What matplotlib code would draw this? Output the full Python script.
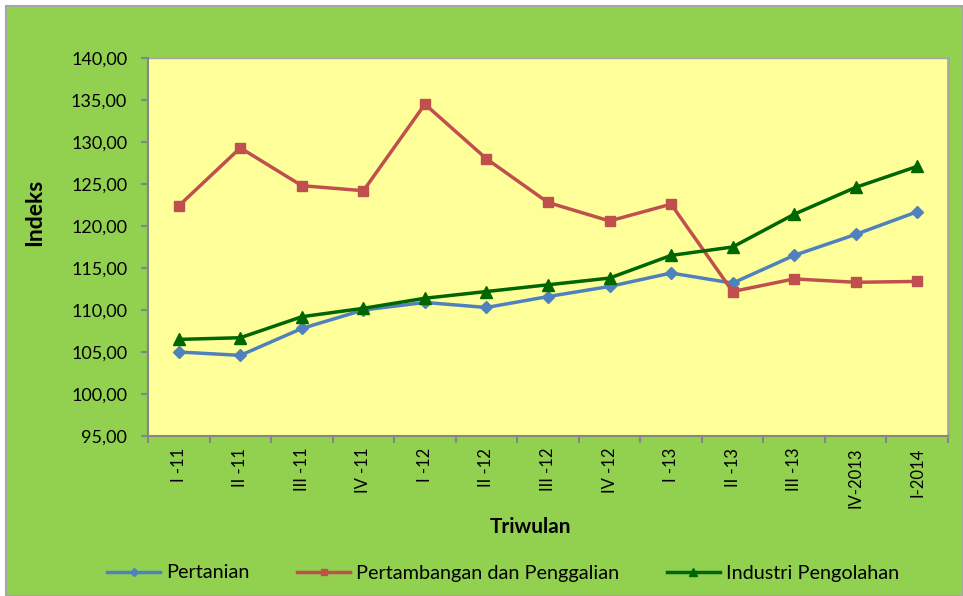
import matplotlib.pyplot as plt
from matplotlib.patches import Rectangle
import numpy as np

quarters = ['I -11', 'II -11', 'III -11', 'IV -11', 'I -12', 'II -12', 'III -12',
            'IV -12', 'I -13', 'II -13', 'III -13', 'IV-2013', 'I-2014']
pertanian = [105.0, 104.6, 107.8, 110.0, 110.9, 110.3, 111.6, 112.8, 114.4, 113.2, 116.5, 119.0, 121.7]
pertambangan = [122.4, 129.3, 124.8, 124.2, 134.5, 128.0, 122.8, 120.6, 122.6, 112.2, 113.7, 113.3, 113.4]
industri = [106.5, 106.7, 109.2, 110.2, 111.4, 112.2, 113.0, 113.8, 116.5, 117.5, 121.4, 124.6, 127.1]
y_ticks = [95, 100, 105, 110, 115, 120, 125, 130, 135, 140]

plt.rcParams['font.family'] = ['Lato', 'DejaVu Sans']

W, H = 963, 596
fig = plt.figure(figsize=(W / 100, H / 100), dpi=100, facecolor='white')

# green chart area with a thin gray frame, white margin on top/left
fig.patches.append(Rectangle((6 / W, 0), 1 - 6 / W, 1 - 6 / H, transform=fig.transFigure,
                             facecolor='#92D050', edgecolor='#A6A6A6', linewidth=1.5, zorder=-5))

ax = fig.add_axes([148 / W, 1 - 436 / H, 800 / W, 378 / H])
ax.set_facecolor('#FFFF99')

x = np.arange(len(quarters))
ax.plot(x, pertanian, color='#4F81BD', lw=2.5, marker='D', ms=6, label='Pertanian')
ax.plot(x, pertambangan, color='#C0504D', lw=2.5, marker='s', ms=7, label='Pertambangan dan Penggalian')
ax.plot(x, industri, color='#006600', lw=2.5, marker='^', ms=8, label='Industri Pengolahan')

ax.set_xlim(-0.5, len(quarters) - 0.5)
ax.set_ylim(95, 140)
ax.set_yticks(y_ticks)
ax.set_yticklabels([f'{v:.2f}'.replace('.', ',') for v in y_ticks], fontsize=13)
ax.set_xticks(x)
ax.set_xticklabels(quarters, rotation=90, fontsize=12)
ax.set_xticks(np.arange(len(quarters) + 1) - 0.5, minor=True)
ax.tick_params(axis='x', which='major', length=0, pad=8.5)
ax.tick_params(axis='x', which='minor', length=5, color='#868686', width=1.5)
ax.tick_params(axis='y', length=5, color='#868686', width=1.5, pad=10)

for side in ['top', 'right']:
    ax.spines[side].set_visible(False)
for side in ['left', 'bottom']:
    ax.spines[side].set_color('#868686')
    ax.spines[side].set_linewidth(1.5)
ax.plot([1, 1], [0, 1], transform=ax.transAxes, color='#A6A6A6', lw=2, clip_on=False)
ax.plot([0, 1], [1, 1], transform=ax.transAxes, color='#A6A6A6', lw=1, clip_on=False)

fig.text(35 / W, 1 - 212 / H, 'Indeks', rotation=90, fontsize=16.5, fontweight='bold',
         ha='center', va='center')
fig.text(530 / W, 1 - 527 / H, 'Triwulan', fontsize=15, fontweight='bold',
         ha='center', va='center')

leg = fig.legend(loc='center', bbox_to_anchor=(503 / W, 1 - 573 / H), ncol=3, frameon=False,
                 fontsize=14.3, handlelength=2.67, handletextpad=0.3, columnspacing=2.4,
                 markerscale=0.7)

fig.savefig('out.png', dpi=100, facecolor=fig.get_facecolor())
